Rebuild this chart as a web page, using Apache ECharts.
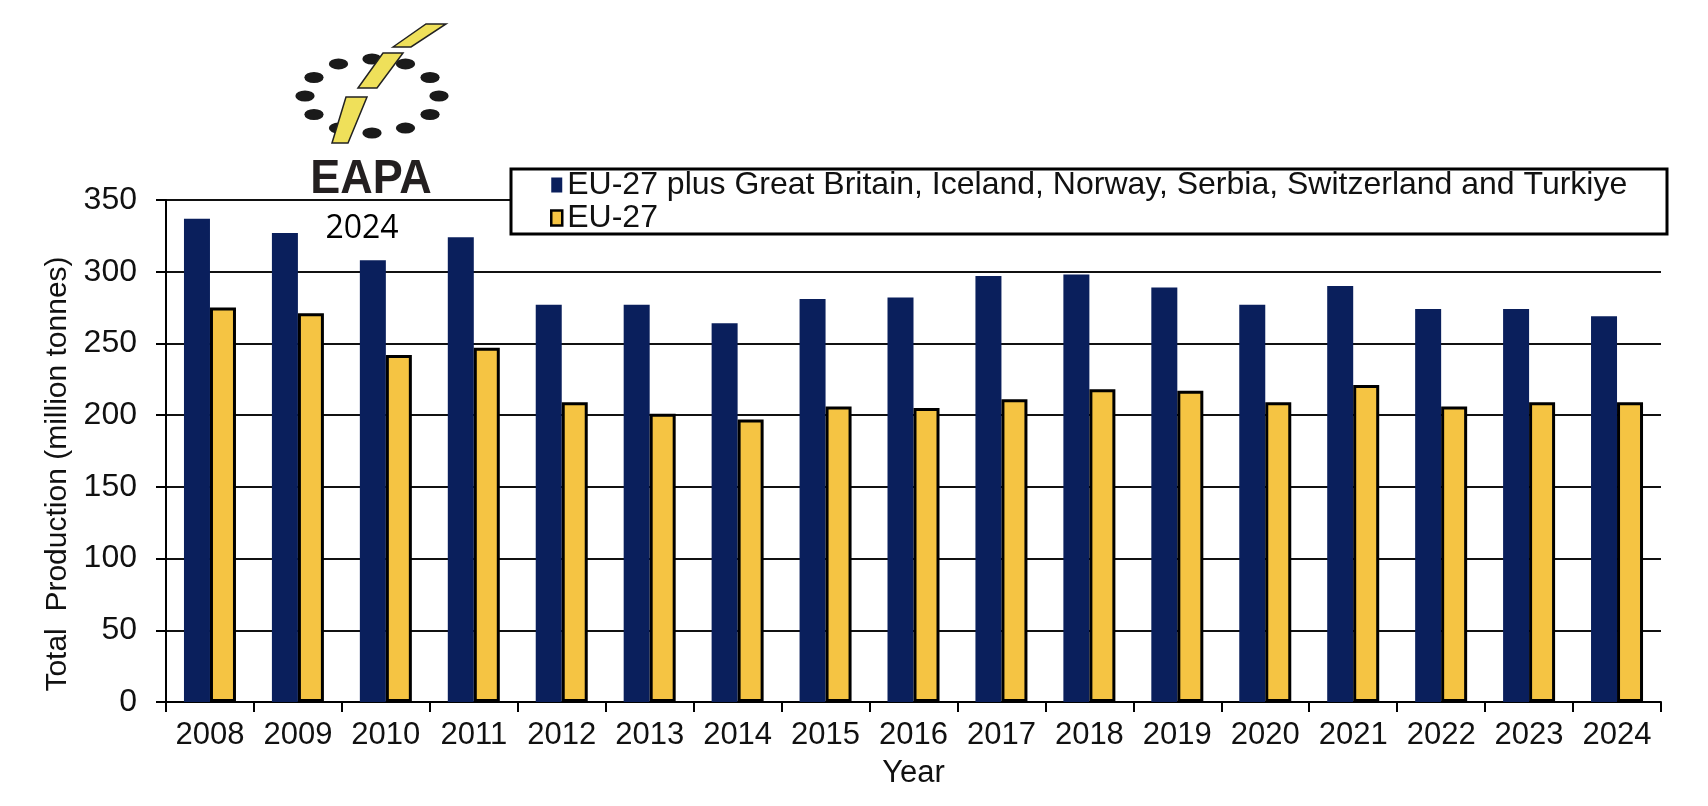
<!DOCTYPE html>
<html>
<head>
<meta charset="utf-8">
<script src="https://cdn.jsdelivr.net/npm/echarts@6/dist/echarts.min.js"></script>
<style>
  html, body { margin: 0; padding: 0; background: #fff; }
  #chart { width: 1708px; height: 806px; }
</style>
</head>
<body>
<div id="chart"></div>
<script>
// ---- data ----
const years = ['2008','2009','2010','2011','2012','2013','2014','2015','2016','2017','2018','2019','2020','2021','2022','2023','2024'];
const seriesNames = ['EU-27 plus Great Britain, Iceland, Norway, Serbia, Switzerland and Turkiye', 'EU-27'];
const euPlusValues = [337, 327, 308, 324, 277, 277, 264, 281, 282, 297, 298, 289, 277, 290, 274, 274, 269];
const eu27Values   = [275, 271, 242, 247, 209, 201, 197, 206, 205, 211, 218, 217, 209, 221, 206, 209, 209];
const yTickLabels = [0, 50, 100, 150, 200, 250, 300, 350];
const xAxisTitle = 'Year';
const yAxisTitle = 'Total  Production (million tonnes)';
const logoText = 'EAPA';
const logoYear = '2024';

// ---- styles ----
const NAVY = '#0a1f5c';
const YELLOW = '#f5c443';
const FONT = '"Liberation Sans", Arial, sans-serif';
const TXT = '#111';

// logo decoration (ring of dots and yellow strokes)
const logo = [];
const cx = 372, cy = 96, rx = 67, ry = 37;
for (let i = 0; i < 12; i++) {
  const a = i * Math.PI / 6;
  logo.push({
    type: 'circle', x: cx + rx * Math.cos(a), y: cy + ry * Math.sin(a),
    scaleX: 1.75, shape: { cx: 0, cy: 0, r: 5.5 },
    style: { fill: '#1a1a1a' }, z: 20
  });
}
const strokes = [
  [[393,47],[426,24],[446,24],[411,47]],
  [[358,88],[383,53],[403,53],[377,88]],
  [[346,97],[367,97],[348,143],[332,143]]
];
strokes.forEach(p => logo.push({
  type: 'polygon', shape: { points: p },
  style: { fill: '#efe05a', stroke: '#222', lineWidth: 1.5 }, z: 21
}));

const chart = echarts.init(document.getElementById('chart'), null, { renderer: 'canvas' });
chart.setOption({
  animation: false,
  backgroundColor: '#fff',
  grid: { left: 166, right: 47, top: 200, bottom: 104, containLabel: false, outerBoundsMode: 'none' },
  legend: {
    orient: 'vertical', left: 550, top: 169, padding: 0,
    itemWidth: 11, itemHeight: 15, itemGap: 1, selectedMode: false, z: 10,
    textStyle: { fontSize: 32, lineHeight: 31, fontFamily: FONT, color: TXT },
    data: [
      { name: seriesNames[0], icon: 'rect', itemStyle: { color: NAVY, borderWidth: 0 } },
      { name: seriesNames[1], icon: 'rect', itemStyle: { color: YELLOW, borderColor: '#000', borderWidth: 2.5 } }
    ]
  },
  xAxis: {
    type: 'category', data: years,
    name: xAxisTitle, nameLocation: 'middle', nameGap: 56,
    nameTextStyle: { fontSize: 31, fontFamily: FONT, color: TXT },
    axisLine: { lineStyle: { color: '#000', width: 2 } },
    axisTick: { show: true, length: 10, lineStyle: { color: '#000', width: 2 } },
    axisLabel: { fontSize: 31, fontFamily: FONT, color: TXT, margin: 18, interval: 0 },
    splitLine: { show: false }
  },
  yAxis: {
    type: 'value', min: yTickLabels[0], max: yTickLabels[yTickLabels.length - 1],
    interval: yTickLabels[1] - yTickLabels[0],
    name: yAxisTitle, nameLocation: 'middle', nameGap: 83,
    nameTextStyle: { fontSize: 30, fontFamily: FONT, color: TXT, padding: [0, 46, 0, 0] },
    axisLine: { show: true, lineStyle: { color: '#000', width: 2 } },
    axisTick: { show: true, length: 10, lineStyle: { color: '#000', width: 2 } },
    axisLabel: { fontSize: 32, fontFamily: FONT, color: TXT, margin: 29 },
    splitLine: { show: true, lineStyle: { color: '#111', width: 2 } }
  },
  series: [
    {
      name: seriesNames[0], type: 'bar', data: euPlusValues,
      barWidth: 26, barGap: '0%',
      itemStyle: { color: NAVY, borderColor: NAVY, borderWidth: 0 }, z: 2
    },
    {
      name: seriesNames[1], type: 'bar', data: eu27Values,
      barWidth: 26, barGap: '0%',
      itemStyle: { color: YELLOW, borderColor: '#000', borderWidth: 3 }, z: 3
    }
  ],
  graphic: [
    { type: 'rect', shape: { x: 511, y: 169, width: 1156, height: 65 },
      style: { fill: '#fff', stroke: '#000', lineWidth: 3 }, z: 5 },
    ...logo,
    { type: 'text', x: 371, y: 180, scaleY: 1.05, z: 22,
      style: { text: logoText, font: 'bold 45px "Liberation Sans", Arial, sans-serif', fill: '#231f20',
               align: 'center', verticalAlign: 'middle' } },
    { type: 'text', x: 362, y: 229, z: 22,
      style: { text: logoYear, font: '32px "Open Sans", sans-serif', fill: '#000',
               align: 'center', verticalAlign: 'middle' } }
  ]
});
</script>
</body>
</html>
